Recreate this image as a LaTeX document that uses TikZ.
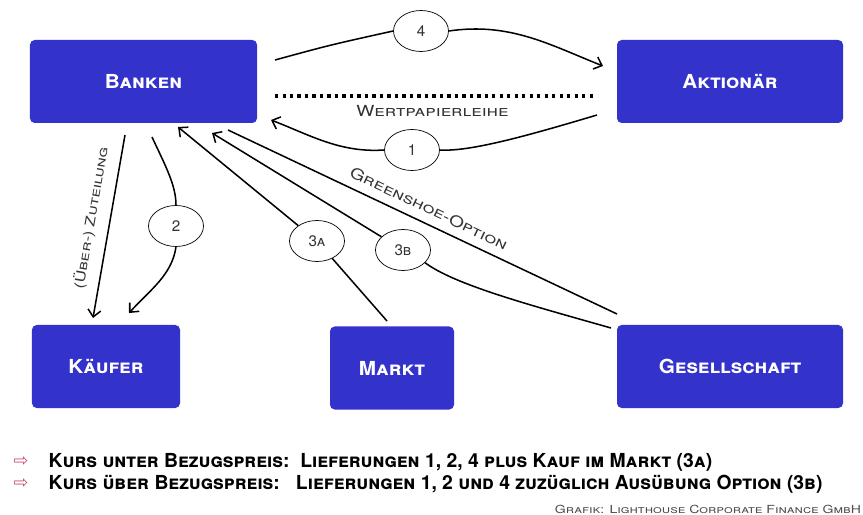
\documentclass[tikz,border=0pt]{standalone}
\usepackage{fontspec}
\setmainfont{TeX Gyre Heros}
\newfontfamily\boxfont[FakeStretch=1.07]{TeX Gyre Heros}
\newfontfamily\widefont[FakeStretch=1.26]{TeX Gyre Heros}
\newfontfamily\symfont{DejaVu Sans}
\usetikzlibrary{shapes.geometric, arrows.meta}
\definecolor{boxblue}{HTML}{3333CC}
\definecolor{hintred}{HTML}{C8506E}
\tikzset{
  box/.style={fill=boxblue, rounded corners=4pt, text=white, minimum height=2.49cm,
    font=\boxfont\bfseries\scshape\fontsize{16.5}{19}\selectfont},
  num/.style={draw, ellipse, fill=white, line width=0.6pt, minimum width=1.65cm,
    minimum height=1.23cm, inner sep=0pt, text=black!80, font=\scshape\fontsize{13}{15}\selectfont},
  lbl/.style={text=black!80, font=\widefont\scshape\fontsize{13}{15}\selectfont},
  dotline/.style={line width=2.6pt, dash pattern=on 2.6pt off 3.8pt},
  hint/.style={anchor=west, font=\bfseries\scshape\fontsize{16.5}{19}\selectfont}
}
\begin{document}
\begin{tikzpicture}[x=0.03cm, y=-0.03cm, line width=1.3pt, >={Straight Barb[length=6pt,width=11pt]}]
\useasboundingbox (0,0) rectangle (863,515);

\node (banken) [box, minimum width=6.81cm] at (143.5,81.5) {Banken};
\node (aktionaer) [box, minimum width=6.78cm] at (730,81.5) {Aktionär};
\node (kaeufer) [box, minimum width=4.44cm] at (106,366.5) {Käufer};
\node (markt) [box, minimum width=3.72cm] at (392,368) {Markt};
\node (gesellschaft) [box, minimum width=6.78cm] at (730,366.5) {Gesellschaft};

\node (n4) [num] at (421,31) {4};
\node (n1) [num] at (412,150) {1};
\node (n2) [num] at (176,226) {2};
\node (n3a) [num] at (317,241) {3a};
\node (n3b) [num] at (403,250) {3b};

\coordinate (b4) at (275,60);
\coordinate (a4) at (603,66);
\coordinate (a1) at (597,115);
\coordinate (b1) at (271,120);
\coordinate (dotA) at (275,96);
\coordinate (dotB) at (597,96);
\coordinate (bz) at (125,135);
\coordinate (kz) at (93,318);
\coordinate (b2) at (152,137);
\coordinate (k2) at (129,313);
\coordinate (m3a) at (387,321);
\coordinate (b3a) at (178,127);
\coordinate (g3b) at (611,328);
\coordinate (b3b) at (212,133);
\coordinate (bg) at (228,130);
\coordinate (gg) at (617,314);

% Lieferung 4
\draw (b4) .. controls (330,45) .. (n4.west);
\draw [->] (n4.east) .. controls (510,22) and (550,45) .. (a4);
% Wertpapierleihe
\draw [dotline] (dotA) -- node (leihe) [lbl, below=3pt, xshift=-3pt] {Wertpapierleihe} (dotB);
% Lieferung 1
\draw (a1) .. controls (530,135) and (470,152) .. (n1.east);
\draw [->] (n1.west) .. controls (340,153) and (310,135) .. (b1);
% Zuteilung
\draw [->] (bz) -- node (zuteilung) [lbl, font=\widefont\scshape\fontsize{11.5}{13}\selectfont, sloped, above=6pt, pos=0.47] {(Über-) Zuteilung} (kz);
% Lieferung 2
\draw (b2) .. controls (165,165) and (176,185) .. (n2.north);
\draw [->] (n2.south) .. controls (172,275) and (150,290) .. (k2);
% 3a und 3b
\draw (m3a) -- (n3a);
\draw [->] (n3a) -- (b3a);
\draw (g3b) .. controls (530,305) and (455,285) .. (n3b.-30);
\draw [->] (n3b) -- (b3b);
\draw (bg) -- node (greenshoe) [lbl, sloped, above=4pt, pos=0.5] {Greenshoe-Option} (gg);

\node (pfeil1) [text=hintred, font=\symfont\fontsize{15}{17}\selectfont] at (21,462) {⇨};
\node (pfeil2) [text=hintred, font=\symfont\fontsize{15}{17}\selectfont] at (21,484) {⇨};
\node (hint1) [hint] at (44,462) {Kurs unter Bezugspreis:\ \ Lieferungen 1, 2, 4 plus Kauf im Markt (3a)};
\node (hint2) [hint] at (44,484) {Kurs über Bezugspreis:\ \ \ Lieferungen 1, 2 und 4 zuzüglich Ausübung Option (3b)};
\node (quelle) [anchor=east, inner xsep=1pt, text=black!70, font=\widefont\scshape\fontsize{9.5}{11}\selectfont] at (863,509) {Grafik: Lighthouse Corporate Finance GmbH};

\end{tikzpicture}
\end{document}
